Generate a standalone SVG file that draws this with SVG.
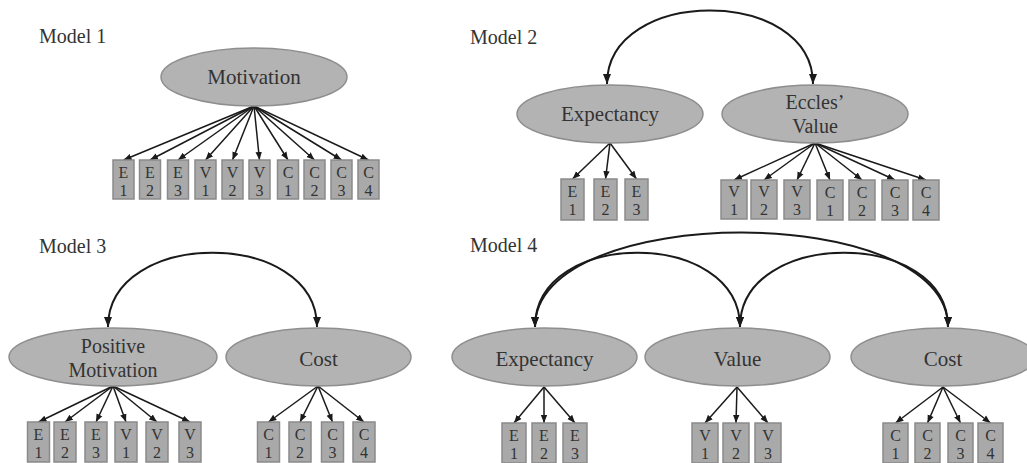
<svg xmlns="http://www.w3.org/2000/svg" width="1027" height="463" viewBox="0 0 1027 463" font-family="'Liberation Serif', 'DejaVu Serif', serif">
<style>
text{font-family:'Liberation Serif','DejaVu Serif',serif;fill:#333;}
.title{font-size:20px;}
.lat{fill:#b3b3b3;stroke:#8e8e8e;stroke-width:1.5;}
.lt{font-size:21px;text-anchor:middle;}
.lt2{font-size:20px;text-anchor:middle;}
.box{fill:#a9a9a9;stroke:#8a8a8a;stroke-width:1.5;}
.bt{font-size:16px;text-anchor:middle;}
.ind{stroke:#1a1a1a;stroke-width:1.5;fill:none;marker-end:url(#ah);}
.cov{stroke:#1a1a1a;stroke-width:2;fill:none;marker-start:url(#ahc);marker-end:url(#ahc);}
</style>
<defs>
<marker id="ah" viewBox="0 0 10 10" refX="10" refY="5" markerWidth="8" markerHeight="8" markerUnits="userSpaceOnUse" orient="auto"><path d="M0,1 L10,5 L0,9 z" fill="#1a1a1a"/></marker>
<marker id="ahc" viewBox="0 0 10 10" refX="10" refY="5" markerWidth="10" markerHeight="10" markerUnits="userSpaceOnUse" orient="auto-start-reverse"><path d="M0,1 L10,5 L0,9 z" fill="#1a1a1a"/></marker>
</defs>

<g id="titles">
<text class="title" x="39" y="43">Model 1</text>
<text class="title" x="470" y="44">Model 2</text>
<text class="title" x="39" y="253">Model 3</text>
<text class="title" x="470" y="252">Model 4</text>
</g>

<g id="connectors">
<!-- Model 1 -->
<line class="ind" x1="254" y1="106" x2="123.5" y2="160"/>
<line class="ind" x1="254" y1="106" x2="150" y2="160"/>
<line class="ind" x1="254" y1="106" x2="178" y2="160"/>
<line class="ind" x1="254" y1="106" x2="205.5" y2="160"/>
<line class="ind" x1="254" y1="106" x2="232.5" y2="160"/>
<line class="ind" x1="254" y1="106" x2="259.5" y2="160"/>
<line class="ind" x1="254" y1="106" x2="288" y2="160"/>
<line class="ind" x1="254" y1="106" x2="314.5" y2="160"/>
<line class="ind" x1="254" y1="106" x2="341.5" y2="160"/>
<line class="ind" x1="254" y1="106" x2="368.5" y2="160"/>
<!-- Model 2 -->
<path class="cov" d="M607,84 C607,-14 813,-14 813,84"/>
<line class="ind" x1="610" y1="143" x2="572.5" y2="179"/>
<line class="ind" x1="610" y1="143" x2="605.5" y2="179"/>
<line class="ind" x1="610" y1="143" x2="636.5" y2="179"/>
<line class="ind" x1="815" y1="143" x2="734" y2="180"/>
<line class="ind" x1="815" y1="143" x2="764" y2="180"/>
<line class="ind" x1="815" y1="143" x2="797" y2="180"/>
<line class="ind" x1="815" y1="143" x2="830" y2="180"/>
<line class="ind" x1="815" y1="143" x2="862" y2="180"/>
<line class="ind" x1="815" y1="143" x2="895" y2="180"/>
<line class="ind" x1="815" y1="143" x2="926" y2="180"/>
<!-- Model 3 -->
<path class="cov" d="M108,327 C108,228 317,228 317,327"/>
<line class="ind" x1="113" y1="386" x2="38.5" y2="422"/>
<line class="ind" x1="113" y1="386" x2="65" y2="422"/>
<line class="ind" x1="113" y1="386" x2="96" y2="422"/>
<line class="ind" x1="113" y1="386" x2="126" y2="422"/>
<line class="ind" x1="113" y1="386" x2="157" y2="422"/>
<line class="ind" x1="113" y1="386" x2="190" y2="422"/>
<line class="ind" x1="318" y1="386" x2="268.5" y2="422"/>
<line class="ind" x1="318" y1="386" x2="300" y2="422"/>
<line class="ind" x1="318" y1="386" x2="332.5" y2="422"/>
<line class="ind" x1="318" y1="386" x2="364" y2="422"/>
<!-- Model 4 -->
<path class="cov" d="M535,327 C535,201 948,201 948,327"/>
<path class="cov" d="M535,327 C535,228 740,228 740,327"/>
<path class="cov" d="M740,327 C740,228 948,228 948,327"/>
<line class="ind" x1="544" y1="387" x2="514" y2="423"/>
<line class="ind" x1="544" y1="387" x2="544" y2="423"/>
<line class="ind" x1="544" y1="387" x2="575" y2="423"/>
<line class="ind" x1="737" y1="387" x2="705" y2="423"/>
<line class="ind" x1="737" y1="387" x2="736" y2="423"/>
<line class="ind" x1="737" y1="387" x2="768" y2="423"/>
<line class="ind" x1="943" y1="387" x2="895.5" y2="423"/>
<line class="ind" x1="943" y1="387" x2="927.5" y2="423"/>
<line class="ind" x1="943" y1="387" x2="960.5" y2="423"/>
<line class="ind" x1="943" y1="387" x2="990.5" y2="423"/>
</g>

<!-- Model 1 nodes -->
<g id="m1-motivation"><ellipse class="lat" cx="254" cy="77" rx="93" ry="29"/><text class="lt" x="254" y="84">Motivation</text></g>
<g id="m1-e1"><rect class="box" x="113" y="160" width="21" height="39"/><text class="bt" x="123.5" y="178">E</text><text class="bt" x="123.5" y="196">1</text></g>
<g id="m1-e2"><rect class="box" x="139.5" y="160" width="21" height="39"/><text class="bt" x="150" y="178">E</text><text class="bt" x="150" y="196">2</text></g>
<g id="m1-e3"><rect class="box" x="167.5" y="160" width="21" height="39"/><text class="bt" x="178" y="178">E</text><text class="bt" x="178" y="196">3</text></g>
<g id="m1-v1"><rect class="box" x="195" y="160" width="21" height="39"/><text class="bt" x="205.5" y="178">V</text><text class="bt" x="205.5" y="196">1</text></g>
<g id="m1-v2"><rect class="box" x="222" y="160" width="21" height="39"/><text class="bt" x="232.5" y="178">V</text><text class="bt" x="232.5" y="196">2</text></g>
<g id="m1-v3"><rect class="box" x="249" y="160" width="21" height="39"/><text class="bt" x="259.5" y="178">V</text><text class="bt" x="259.5" y="196">3</text></g>
<g id="m1-c1"><rect class="box" x="277.5" y="160" width="21" height="39"/><text class="bt" x="288" y="178">C</text><text class="bt" x="288" y="196">1</text></g>
<g id="m1-c2"><rect class="box" x="304" y="160" width="21" height="39"/><text class="bt" x="314.5" y="178">C</text><text class="bt" x="314.5" y="196">2</text></g>
<g id="m1-c3"><rect class="box" x="331" y="160" width="21" height="39"/><text class="bt" x="341.5" y="178">C</text><text class="bt" x="341.5" y="196">3</text></g>
<g id="m1-c4"><rect class="box" x="358" y="160" width="21" height="39"/><text class="bt" x="368.5" y="178">C</text><text class="bt" x="368.5" y="196">4</text></g>

<!-- Model 2 nodes -->
<g id="m2-expectancy"><ellipse class="lat" cx="610" cy="114" rx="93" ry="29"/><text class="lt" x="610" y="121">Expectancy</text></g>
<g id="m2-value"><ellipse class="lat" cx="815" cy="114" rx="93" ry="29"/><text class="lt2" x="815" y="109">Eccles’</text><text class="lt2" x="815" y="133">Value</text></g>
<g id="m2-e1"><rect class="box" x="561" y="179" width="23" height="41"/><text class="bt" x="572.5" y="197">E</text><text class="bt" x="572.5" y="215">1</text></g>
<g id="m2-e2"><rect class="box" x="594" y="179" width="23" height="41"/><text class="bt" x="605.5" y="197">E</text><text class="bt" x="605.5" y="215">2</text></g>
<g id="m2-e3"><rect class="box" x="625" y="179" width="23" height="41"/><text class="bt" x="636.5" y="197">E</text><text class="bt" x="636.5" y="215">3</text></g>
<g id="m2-v1"><rect class="box" x="721" y="180" width="26" height="39"/><text class="bt" x="734" y="197">V</text><text class="bt" x="734" y="215">1</text></g>
<g id="m2-v2"><rect class="box" x="751" y="180" width="26" height="39"/><text class="bt" x="764" y="197">V</text><text class="bt" x="764" y="215">2</text></g>
<g id="m2-v3"><rect class="box" x="784" y="180" width="26" height="39"/><text class="bt" x="797" y="197">V</text><text class="bt" x="797" y="215">3</text></g>
<g id="m2-c1"><rect class="box" x="817" y="180" width="26" height="40"/><text class="bt" x="830" y="198">C</text><text class="bt" x="830" y="216">1</text></g>
<g id="m2-c2"><rect class="box" x="849" y="180" width="26" height="40"/><text class="bt" x="862" y="198">C</text><text class="bt" x="862" y="216">2</text></g>
<g id="m2-c3"><rect class="box" x="882" y="180" width="26" height="40"/><text class="bt" x="895" y="198">C</text><text class="bt" x="895" y="216">3</text></g>
<g id="m2-c4"><rect class="box" x="913" y="180" width="26" height="40"/><text class="bt" x="926" y="198">C</text><text class="bt" x="926" y="216">4</text></g>

<!-- Model 3 nodes -->
<g id="m3-positive"><ellipse class="lat" cx="113" cy="357" rx="104" ry="29"/><text class="lt2" x="113" y="353">Positive</text><text class="lt2" x="113" y="377">Motivation</text></g>
<g id="m3-cost"><ellipse class="lat" cx="318.5" cy="357" rx="92.5" ry="29"/><text class="lt" x="318.5" y="366">Cost</text></g>
<g id="m3-e1"><rect class="box" x="27.5" y="422" width="22" height="40"/><text class="bt" x="38.5" y="440">E</text><text class="bt" x="38.5" y="458">1</text></g>
<g id="m3-e2"><rect class="box" x="54" y="422" width="22" height="40"/><text class="bt" x="65" y="440">E</text><text class="bt" x="65" y="458">2</text></g>
<g id="m3-e3"><rect class="box" x="85" y="422" width="22" height="40"/><text class="bt" x="96" y="440">E</text><text class="bt" x="96" y="458">3</text></g>
<g id="m3-v1"><rect class="box" x="115" y="422" width="22" height="40"/><text class="bt" x="126" y="440">V</text><text class="bt" x="126" y="458">1</text></g>
<g id="m3-v2"><rect class="box" x="146" y="422" width="22" height="40"/><text class="bt" x="157" y="440">V</text><text class="bt" x="157" y="458">2</text></g>
<g id="m3-v3"><rect class="box" x="179" y="422" width="22" height="40"/><text class="bt" x="190" y="440">V</text><text class="bt" x="190" y="458">3</text></g>
<g id="m3-c1"><rect class="box" x="257.5" y="422" width="22" height="40"/><text class="bt" x="268.5" y="440">C</text><text class="bt" x="268.5" y="458">1</text></g>
<g id="m3-c2"><rect class="box" x="289" y="422" width="22" height="40"/><text class="bt" x="300" y="440">C</text><text class="bt" x="300" y="458">2</text></g>
<g id="m3-c3"><rect class="box" x="321.5" y="422" width="22" height="40"/><text class="bt" x="332.5" y="440">C</text><text class="bt" x="332.5" y="458">3</text></g>
<g id="m3-c4"><rect class="box" x="353" y="422" width="22" height="40"/><text class="bt" x="364" y="440">C</text><text class="bt" x="364" y="458">4</text></g>

<!-- Model 4 nodes -->
<g id="m4-expectancy"><ellipse class="lat" cx="544.5" cy="357" rx="92.5" ry="29"/><text class="lt" x="544.5" y="366">Expectancy</text></g>
<g id="m4-value"><ellipse class="lat" cx="737.5" cy="357" rx="92.5" ry="29"/><text class="lt" x="737.5" y="366">Value</text></g>
<g id="m4-cost"><ellipse class="lat" cx="943" cy="357" rx="92" ry="29"/><text class="lt" x="943" y="366">Cost</text></g>
<g id="m4-e1"><rect class="box" x="502" y="423" width="24" height="40"/><text class="bt" x="514" y="441">E</text><text class="bt" x="514" y="459">1</text></g>
<g id="m4-e2"><rect class="box" x="532" y="423" width="24" height="40"/><text class="bt" x="544" y="441">E</text><text class="bt" x="544" y="459">2</text></g>
<g id="m4-e3"><rect class="box" x="563" y="423" width="24" height="40"/><text class="bt" x="575" y="441">E</text><text class="bt" x="575" y="459">3</text></g>
<g id="m4-v1"><rect class="box" x="692" y="423" width="26" height="40"/><text class="bt" x="705" y="441">V</text><text class="bt" x="705" y="459">1</text></g>
<g id="m4-v2"><rect class="box" x="723" y="423" width="26" height="40"/><text class="bt" x="736" y="441">V</text><text class="bt" x="736" y="459">2</text></g>
<g id="m4-v3"><rect class="box" x="755" y="423" width="26" height="40"/><text class="bt" x="768" y="441">V</text><text class="bt" x="768" y="459">3</text></g>
<g id="m4-c1"><rect class="box" x="883" y="423" width="25" height="40"/><text class="bt" x="895.5" y="441">C</text><text class="bt" x="895.5" y="459">1</text></g>
<g id="m4-c2"><rect class="box" x="915" y="423" width="25" height="40"/><text class="bt" x="927.5" y="441">C</text><text class="bt" x="927.5" y="459">2</text></g>
<g id="m4-c3"><rect class="box" x="948" y="423" width="25" height="40"/><text class="bt" x="960.5" y="441">C</text><text class="bt" x="960.5" y="459">3</text></g>
<g id="m4-c4"><rect class="box" x="978" y="423" width="25" height="40"/><text class="bt" x="990.5" y="441">C</text><text class="bt" x="990.5" y="459">4</text></g>
</svg>
